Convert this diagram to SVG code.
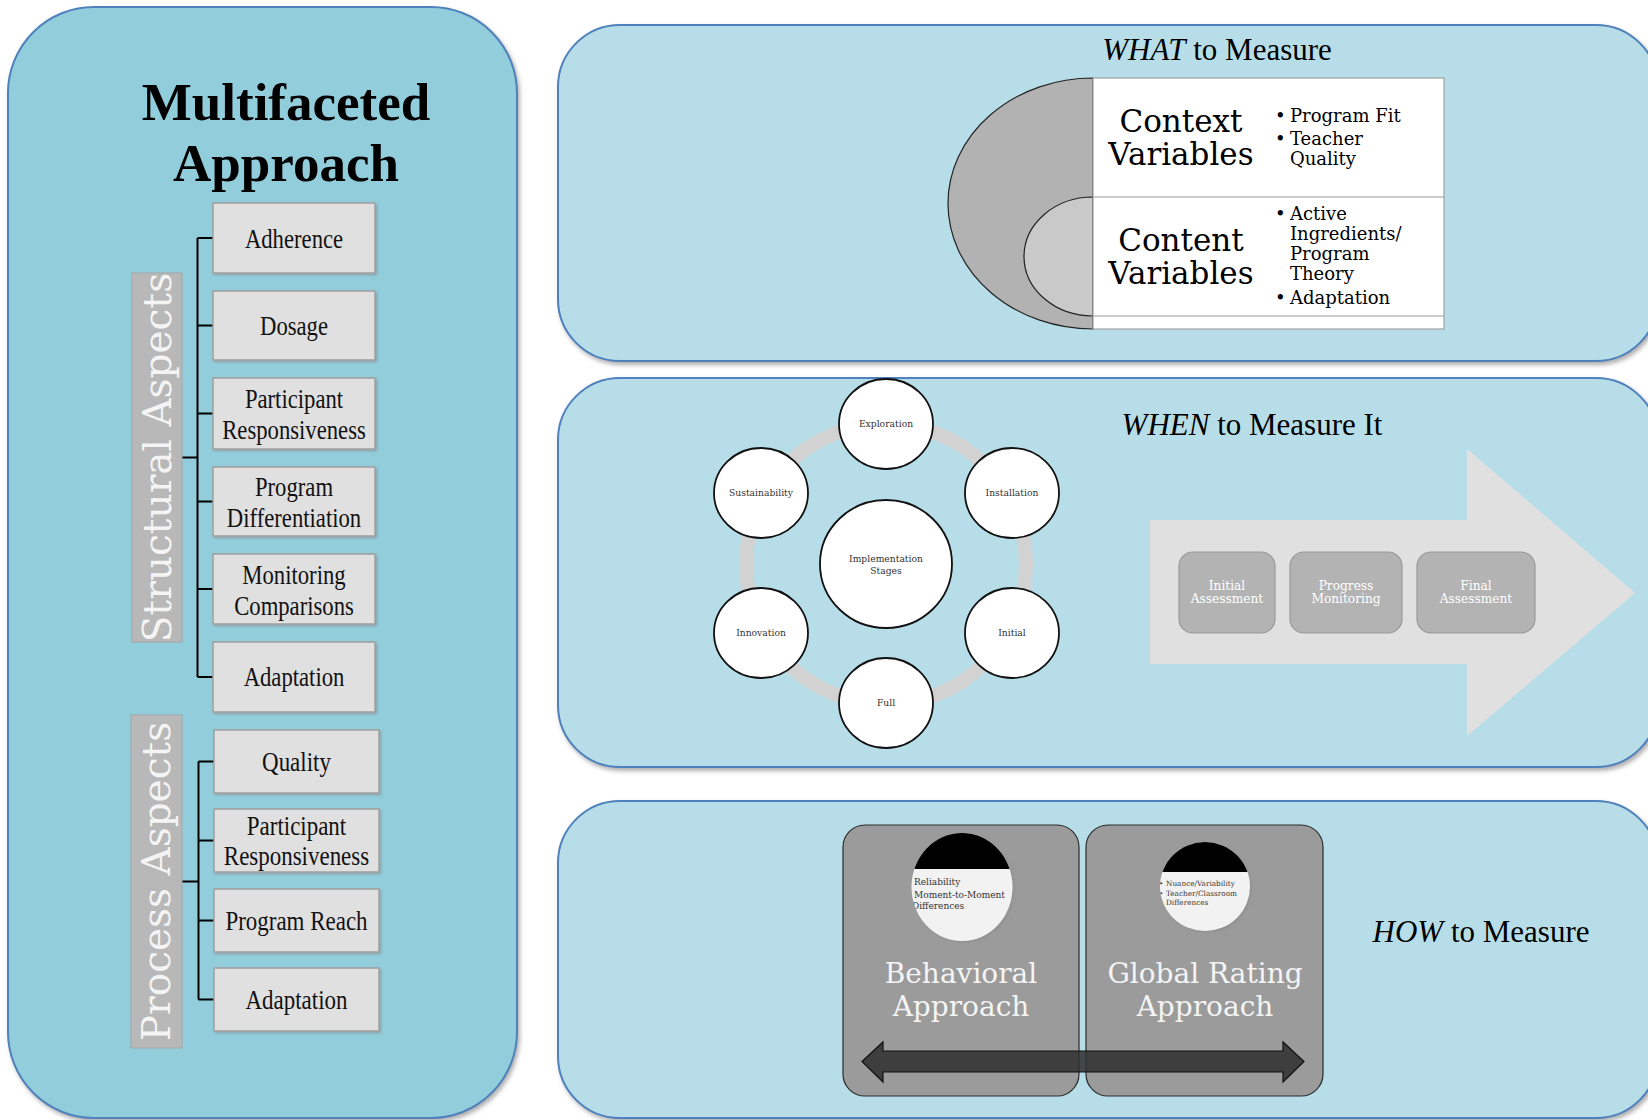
<svg xmlns="http://www.w3.org/2000/svg" width="1648" height="1120" viewBox="0 0 1648 1120">
<defs>
<style>
.panelL{fill:#92CDDC;stroke:#4F81BD;stroke-width:2}
.panelR{fill:#B7DEE8;stroke:#4F81BD;stroke-width:2}
.box{fill:#E0E0E0;stroke:#A0A0A0;stroke-width:1.5}
.bt{font-family:"Liberation Serif",serif;font-size:28px;fill:#111;text-anchor:middle}
.bar{fill:#B8B8B8;stroke:#A6A6A6;stroke-width:1}
.bartxt{font-family:"DejaVu Serif","Liberation Serif",serif;font-size:39px;fill:#F4F4F4;text-anchor:middle}
.conn{stroke:#000;stroke-width:2;fill:none}
.title{font-family:"Liberation Serif",serif;font-size:31px;fill:#000;text-anchor:middle}
.cv{font-family:"DejaVu Serif","Liberation Serif",serif;font-size:31px;fill:#000;text-anchor:middle}
.bul{font-family:"DejaVu Serif","Liberation Serif",serif;font-size:18px;fill:#000}
.node{fill:#fff;stroke:#111;stroke-width:1.8}
.nt{font-family:"DejaVu Serif","Liberation Serif",serif;font-size:9.2px;fill:#333;text-anchor:middle}
.ib{fill:#B3B3B3;stroke:#999;stroke-width:1.2}
.it{font-family:"DejaVu Serif","Liberation Serif",serif;font-size:12.2px;fill:#fff;text-anchor:middle}
.hb{fill:#9B9B9B;stroke:#2A2A2A;stroke-width:1.2}
.ht{font-family:"DejaVu Serif","Liberation Serif",serif;font-size:28px;fill:#F4F4F4;text-anchor:middle}
.st{font-family:"DejaVu Serif","Liberation Serif",serif;fill:#333}
</style>
<filter id="sh" x="-5%" y="-5%" width="110%" height="110%">
<feDropShadow dx="2" dy="3" stdDeviation="2" flood-color="#7a7a7a" flood-opacity="0.6"/>
</filter>
<filter id="bs" x="-5%" y="-5%" width="115%" height="120%">
<feDropShadow dx="1.5" dy="1.5" stdDeviation="0.8" flood-color="#888" flood-opacity="0.6"/>
</filter>
<clipPath id="c1"><ellipse cx="962" cy="887" rx="50.5" ry="54"/></clipPath>
<clipPath id="c2"><ellipse cx="1205" cy="886.5" rx="45" ry="44.5"/></clipPath>
</defs>

<!-- Left panel -->
<g id="multifaceted-panel">
<rect class="panelL" x="8" y="7" width="509" height="1111" rx="86" filter="url(#sh)"/>
<text x="286" y="120" font-family="Liberation Serif,serif" font-weight="bold" font-size="53" text-anchor="middle">Multifaceted</text>
<text x="286" y="181" font-family="Liberation Serif,serif" font-weight="bold" font-size="53" text-anchor="middle">Approach</text>
</g>

<g id="connectors">
<path class="conn" d="M197.5 238 V677 M197.5 238 H213 M197.5 325.5 H213 M197.5 413.5 H213 M197.5 501.5 H213 M197.5 589 H213 M197.5 677 H213 M182 457.5 H197.5"/>
<path class="conn" d="M198.5 761.5 V999.5 M198.5 761.5 H214 M198.5 840.5 H214 M198.5 920.5 H214 M198.5 999.5 H214 M182 881.5 H198.5"/>
</g>

<g id="structural-aspects">
<rect class="bar" x="132" y="273" width="50" height="369"/>
<text class="bartxt" transform="translate(171 457.5) rotate(-90)">Structural Aspects</text>
</g>
<g id="s-adherence"><rect class="box" x="213" y="203" width="162" height="70" filter="url(#bs)"/><text class="bt" transform="translate(294 248) scale(0.81 1)">Adherence</text></g>
<g id="s-dosage"><rect class="box" x="213" y="291" width="162" height="69" filter="url(#bs)"/><text class="bt" transform="translate(294 335) scale(0.81 1)">Dosage</text></g>
<g id="s-responsiveness"><rect class="box" x="213" y="378" width="162" height="71" filter="url(#bs)"/><text class="bt" transform="translate(294 408) scale(0.81 1)">Participant</text><text class="bt" transform="translate(294 439) scale(0.81 1)">Responsiveness</text></g>
<g id="s-differentiation"><rect class="box" x="213" y="467" width="162" height="69" filter="url(#bs)"/><text class="bt" transform="translate(294 496) scale(0.81 1)">Program</text><text class="bt" transform="translate(294 527) scale(0.81 1)">Differentiation</text></g>
<g id="s-monitoring"><rect class="box" x="213" y="554" width="162" height="70" filter="url(#bs)"/><text class="bt" transform="translate(294 584) scale(0.81 1)">Monitoring</text><text class="bt" transform="translate(294 615) scale(0.81 1)">Comparisons</text></g>
<g id="s-adaptation"><rect class="box" x="213" y="642" width="162" height="70" filter="url(#bs)"/><text class="bt" transform="translate(294 686) scale(0.81 1)">Adaptation</text></g>

<g id="process-aspects">
<rect class="bar" x="131" y="715" width="51" height="333"/>
<text class="bartxt" transform="translate(170 881.5) rotate(-90)">Process Aspects</text>
</g>
<g id="p-quality"><rect class="box" x="214" y="730" width="165" height="63" filter="url(#bs)"/><text class="bt" transform="translate(296.5 771) scale(0.82 1)">Quality</text></g>
<g id="p-responsiveness"><rect class="box" x="214" y="809" width="165" height="63" filter="url(#bs)"/><text class="bt" transform="translate(296.5 835) scale(0.82 1)">Participant</text><text class="bt" transform="translate(296.5 865) scale(0.82 1)">Responsiveness</text></g>
<g id="p-reach"><rect class="box" x="214" y="889" width="165" height="63" filter="url(#bs)"/><text class="bt" transform="translate(296.5 930) scale(0.82 1)">Program Reach</text></g>
<g id="p-adaptation"><rect class="box" x="214" y="968" width="165" height="63" filter="url(#bs)"/><text class="bt" transform="translate(296.5 1009) scale(0.82 1)">Adaptation</text></g>

<!-- WHAT panel -->
<g id="what-panel">
<rect class="panelR" x="558" y="25" width="1100" height="336" rx="62" filter="url(#sh)"/>
<text class="title" x="1217" y="60"><tspan font-style="italic">WHAT</tspan> to Measure</text>
<path d="M1093 78 A145 125.5 0 0 0 1093 329 Z" fill="#B2B2B2" stroke="#222" stroke-width="1.2"/>
<path d="M1093 197 A69 59.5 0 0 0 1093 316 Z" fill="#C9C9C9" stroke="#222" stroke-width="1.2"/>
<rect x="1093" y="78" width="351" height="251" fill="#fff" stroke="#A0A0A0" stroke-width="1.2"/>
<path d="M1093 197 H1444 M1093 316 H1444" stroke="#999" stroke-width="1.2"/>
</g>
<g id="context-variables">
<text class="cv" x="1181" y="132">Context</text>
<text class="cv" x="1181" y="165">Variables</text>
<text class="bul" x="1275" y="122">•</text><text class="bul" x="1290" y="122">Program Fit</text>
<text class="bul" x="1275" y="145">•</text><text class="bul" x="1290" y="145">Teacher</text>
<text class="bul" x="1290" y="165">Quality</text>
</g>
<g id="content-variables">
<text class="cv" x="1181" y="251">Content</text>
<text class="cv" x="1181" y="284">Variables</text>
<text class="bul" x="1275" y="220">•</text><text class="bul" x="1290" y="220">Active</text>
<text class="bul" x="1290" y="240">Ingredients/</text>
<text class="bul" x="1290" y="260">Program</text>
<text class="bul" x="1290" y="280">Theory</text>
<text class="bul" x="1275" y="304">•</text><text class="bul" x="1290" y="304">Adaptation</text>
</g>

<!-- WHEN panel -->
<g id="when-panel">
<rect class="panelR" x="558" y="378" width="1100" height="389" rx="62" filter="url(#sh)"/>
<text class="title" x="1252" y="435"><tspan font-style="italic">WHEN</tspan> to Measure It</text>
<circle cx="886" cy="564" r="140" fill="none" stroke="#D2D2D2" stroke-width="14"/>
</g>
<g id="stage-center"><ellipse class="node" cx="886" cy="564" rx="66" ry="64"/><text class="nt" font-size="12" x="886" y="562">Implementation</text><text class="nt" font-size="12" x="886" y="574">Stages</text></g>
<g id="stage-exploration"><ellipse class="node" cx="886" cy="424" rx="47" ry="45"/><text class="nt" x="886" y="427">Exploration</text></g>
<g id="stage-installation"><ellipse class="node" cx="1012" cy="493" rx="47" ry="45"/><text class="nt" x="1012" y="496">Installation</text></g>
<g id="stage-initial"><ellipse class="node" cx="1012" cy="633" rx="47" ry="45"/><text class="nt" x="1012" y="636">Initial</text></g>
<g id="stage-full"><ellipse class="node" cx="886" cy="703" rx="47" ry="45"/><text class="nt" x="886" y="706">Full</text></g>
<g id="stage-innovation"><ellipse class="node" cx="761" cy="633" rx="47" ry="45"/><text class="nt" x="761" y="636">Innovation</text></g>
<g id="stage-sustainability"><ellipse class="node" cx="761" cy="493" rx="47" ry="45"/><text class="nt" x="761" y="496">Sustainability</text></g>

<g id="timeline-arrow">
<polygon points="1150,520 1467,520 1467,449 1635,593 1467,736 1467,664 1150,664" fill="#E0E0E0"/>
</g>
<g id="initial-assessment"><rect class="ib" x="1179" y="552" width="96" height="81" rx="14"/><text class="it" x="1227" y="590">Initial</text><text class="it" x="1227" y="603">Assessment</text></g>
<g id="progress-monitoring"><rect class="ib" x="1290" y="552" width="112" height="81" rx="14"/><text class="it" x="1346" y="590">Progress</text><text class="it" x="1346" y="603">Monitoring</text></g>
<g id="final-assessment"><rect class="ib" x="1417" y="552" width="118" height="81" rx="14"/><text class="it" x="1476" y="590">Final</text><text class="it" x="1476" y="603">Assessment</text></g>

<!-- HOW panel -->
<g id="how-panel">
<rect class="panelR" x="558" y="801" width="1100" height="317" rx="62" filter="url(#sh)"/>
<text class="title" x="1481" y="942"><tspan font-style="italic">HOW</tspan> to Measure</text>
</g>
<g id="behavioral-approach">
<rect class="hb" x="843" y="825" width="236" height="271" rx="22"/>
<ellipse cx="962" cy="887" rx="50.5" ry="54" fill="#F2F2F2" filter="url(#bs)"/>
<rect x="900" y="820" width="130" height="49" fill="#000" clip-path="url(#c1)"/>
<g clip-path="url(#c1)">
<text class="st" font-size="9" x="914" y="885">Reliability</text>
<text class="st" font-size="9" x="914" y="898">Moment-to-Moment</text>
<text class="st" font-size="9" x="912" y="909">Differences</text>
</g>
<text class="ht" x="961" y="983">Behavioral</text>
<text class="ht" x="961" y="1016">Approach</text>
</g>
<g id="global-rating-approach">
<rect class="hb" x="1086" y="825" width="237" height="271" rx="22"/>
<ellipse cx="1205" cy="886.5" rx="45" ry="44.5" fill="#F2F2F2" filter="url(#bs)"/>
<rect x="1150" y="830" width="110" height="42" fill="#000" clip-path="url(#c2)"/>
<g clip-path="url(#c2)">
<text class="st" font-size="7.3" x="1159" y="886">•</text><text class="st" font-size="7.3" x="1166" y="886">Nuance/Variability</text>
<text class="st" font-size="7.3" x="1159" y="896">•</text><text class="st" font-size="7.3" x="1166" y="896">Teacher/Classroom</text>
<text class="st" font-size="7.3" x="1166" y="905">Differences</text>
</g>
<text class="ht" x="1205" y="983">Global Rating</text>
<text class="ht" x="1205" y="1016">Approach</text>
</g>
<g id="continuum-arrow">
<polygon points="862,1061.5 883,1042 883,1051 1283,1051 1283,1042 1304,1061.5 1283,1082 1283,1072 883,1072 883,1082" fill="#2E2E2E" fill-opacity="0.85" stroke="#111" stroke-width="1.2"/>
</g>
</svg>
